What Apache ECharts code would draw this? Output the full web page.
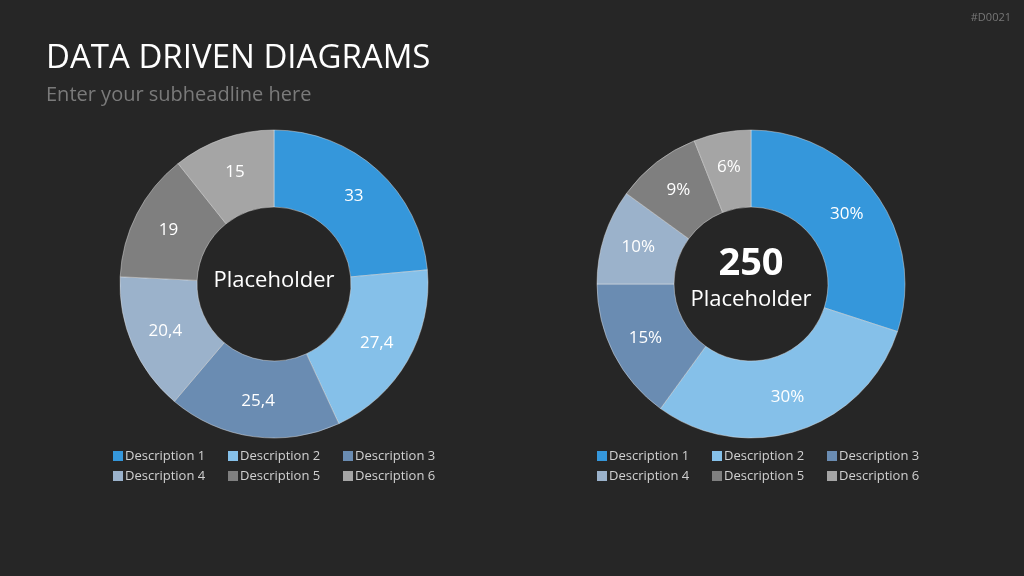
<!DOCTYPE html>
<html>
<head>
<meta charset="utf-8">
<title>Data Driven Diagrams</title>
<script src="https://cdn.jsdelivr.net/npm/echarts@6/dist/echarts.min.js"></script>
<style>
    html, body { margin: 0; padding: 0; background: #262626; }
    #chart { width: 1024px; height: 576px; }
</style>
</head>
<body>
<div id="chart"></div>
<script>
// data
var names = ['Description 1', 'Description 2', 'Description 3', 'Description 4', 'Description 5', 'Description 6'];
var leftValues = [33, 27.4, 25.4, 20.4, 19, 15];
var rightValues = [30, 30, 15, 10, 9, 6];
var colors = ['#3597db', '#85c0e9', '#6a8cb2', '#9bb2cb', '#7f7f7f', '#a5a5a5'];

var font = '"Open Sans", "Noto Sans", sans-serif';

function toData(values) {
    return values.map(function (v, i) {
        return { name: names[i], value: v };
    });
}

function legendFor(left) {
    return {
        left: left,
        top: 448,
        width: 345,
        orient: 'horizontal',
        icon: 'rect',
        itemWidth: 10,
        itemHeight: 10,
        itemGap: 4,
        padding: 0,
        selectedMode: false,
        itemStyle: { borderWidth: 0 },
        textStyle: {
            color: '#d0d0d0',
            fontSize: 13,
            fontFamily: font,
            width: 99,
            lineHeight: 16,
            padding: [0, 0, 0, -3]
        },
        data: names
    };
}

function pieFor(center, values, fmt) {
    return {
        type: 'pie',
        center: center,
        radius: [77, 154],
        startAngle: 90,
        clockwise: true,
        silent: true,
        itemStyle: {
            borderColor: 'rgba(230,230,230,0.45)',
            borderWidth: 1
        },
        label: {
            show: true,
            position: 'inside',
            color: '#ffffff',
            fontSize: 17,
            fontFamily: font,
            formatter: fmt
        },
        labelLine: { show: false },
        data: toData(values)
    };
}

var myChart = echarts.init(document.getElementById('chart'));
var option = {
    backgroundColor: '#262626',
    color: colors,
    animation: false,
    title: [
        {
            text: 'DATA DRIVEN DIAGRAMS',
            left: 41,
            top: 37,
            textStyle: { color: '#ffffff', fontSize: 33, fontWeight: 'normal', fontFamily: font }
        },
        {
            text: 'Enter your subheadline here',
            left: 41,
            top: 80,
            textStyle: { color: '#7a7a7a', fontSize: 20, fontWeight: 'normal', fontFamily: font }
        },
        {
            text: '#D0021',
            right: 8,
            top: 7,
            textStyle: { color: '#777777', fontSize: 11, fontWeight: 'normal', fontFamily: font }
        }
    ],
    legend: [legendFor(113), legendFor(597)],
    graphic: [
        {
            type: 'text', x: 274, y: 281,
            style: {
                text: 'Placeholder', fill: '#ffffff', fontSize: 22, fontFamily: font,
                align: 'center', verticalAlign: 'middle'
            }
        },
        {
            type: 'text', x: 751, y: 264,
            style: {
                text: '250', fill: '#ffffff', fontSize: 38, fontWeight: 'bold', fontFamily: font,
                align: 'center', verticalAlign: 'middle'
            }
        },
        {
            type: 'text', x: 751, y: 300,
            style: {
                text: 'Placeholder', fill: '#ffffff', fontSize: 22, fontFamily: font,
                align: 'center', verticalAlign: 'middle'
            }
        }
    ],
    series: [
        pieFor([274, 284], leftValues, function (p) { return String(p.value).replace('.', ','); }),
        pieFor([751, 284], rightValues, '{c}%')
    ]
};
myChart.setOption(option);
</script>
</body>
</html>
